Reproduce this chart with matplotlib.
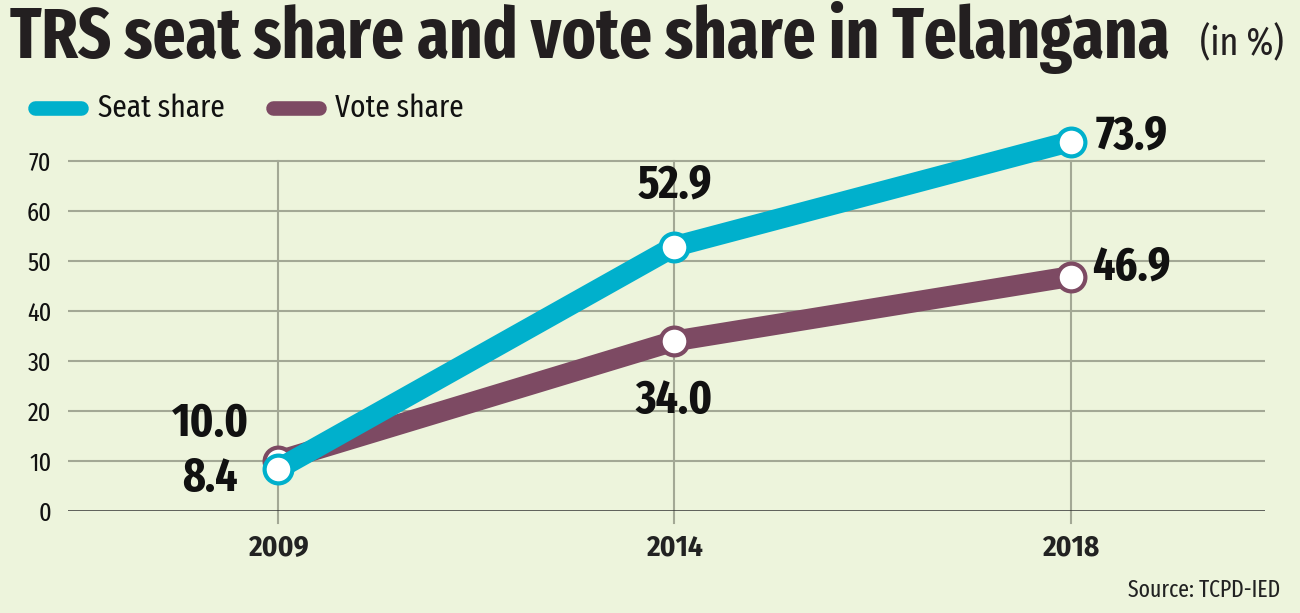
import matplotlib
matplotlib.use('Agg')
import matplotlib.pyplot as plt

# data
years = ['2009', '2014', '2018']
seat_share = [8.4, 52.9, 73.9]
vote_share = [10.0, 34.0, 46.9]
yticks = [0, 10, 20, 30, 40, 50, 60, 70]

narrow = ['Fira Sans Condensed', 'Roboto Condensed', 'DejaVu Sans']
xnarrow = ['Fira Sans Extra Condensed', 'Fira Sans Condensed', 'Roboto Condensed', 'DejaVu Sans']

bg = '#edf4dc'
teal = '#00b0cc'
plum = '#7d4a63'
grid = '#a3a895'

fig = plt.figure(figsize=(13, 6.13), dpi=100, facecolor=bg)
ax = fig.add_axes([68/1300, 102/613, 1197/1300, 375/613])
ax.set_facecolor(bg)
ax.set_xlim(-0.53, 2.49)
ax.set_ylim(0, 75)
for s in ax.spines.values():
    s.set_visible(False)

x = list(range(len(years)))

# grid
for yv in yticks[1:]:
    ax.axhline(yv, color=grid, lw=1.5, zorder=1)
ax.axhline(0, color='#333333', lw=1.8, zorder=2)
for xv in x:
    ax.plot([xv, xv], [-2.4, 70], color=grid, lw=1.5, zorder=1, clip_on=False)

ax.set_yticks(yticks)
ax.set_yticklabels([str(v) for v in yticks], family=xnarrow, fontsize=19, color='#111111')
ax.tick_params(axis='y', length=0, pad=12)
ax.set_xticks(x)
ax.set_xticklabels(years, family=narrow, fontsize=21, fontweight='bold', color='#222222')
ax.tick_params(axis='x', length=0, pad=16)

# lines
ax.plot(x, vote_share, color=plum, lw=15, solid_capstyle='round', zorder=3, clip_on=False)
ax.plot(x, vote_share, 'o', ms=20, mfc='white', mec=plum, mew=3, zorder=4, clip_on=False)
ax.plot(x, seat_share, color=teal, lw=15, solid_capstyle='round', zorder=5, clip_on=False)
ax.plot(x, seat_share, 'o', ms=20, mfc='white', mec=teal, mew=3, zorder=6, clip_on=False)

# value labels
lab = dict(family=xnarrow, fontsize=34, fontweight='bold', color='#111111', ha='center', va='center')
ax.text(x[0] - 0.17, vote_share[0] + 7.5, f'{vote_share[0]:.1f}', **lab)
ax.text(x[0] - 0.172, seat_share[0] - 2.0, f'{seat_share[0]:.1f}', **lab)
ax.text(x[1], seat_share[1] + 12.3, f'{seat_share[1]:.1f}', **lab)
ax.text(x[1], vote_share[1] - 12.0, f'{vote_share[1]:.1f}', **lab)
lab['ha'] = 'left'
ax.text(x[2] + 0.063, seat_share[2] + 1.1, f'{seat_share[2]:.1f}', **lab)
ax.text(x[2] + 0.055, vote_share[2] + 1.8, f'{vote_share[2]:.1f}', **lab)

# title
fig.text(10/1300, 1 - 38/613, 'TRS seat share and vote share in Telangana', family=xnarrow,
         fontsize=50.5, fontweight='bold', color='#231f20', va='center', ha='left')
fig.text(1284/1300, 1 - 44/613, '(in %)', family=xnarrow, fontsize=28, color='#231f20',
         va='center', ha='right')

# legend
fig.add_artist(plt.Line2D([35/1300, 81/1300], [1 - 108/613] * 2, color=teal, lw=10.5,
                          solid_capstyle='round'))
fig.text(98/1300, 1 - 108/613, 'Seat share', family=xnarrow, fontsize=23, va='center', color='#111111')
fig.add_artist(plt.Line2D([273/1300, 319/1300], [1 - 108/613] * 2, color=plum, lw=10.5,
                          solid_capstyle='round'))
fig.text(335/1300, 1 - 108/613, 'Vote share', family=xnarrow, fontsize=23, va='center', color='#111111')

fig.text(1280/1300, 1 - 590/613, 'Source: TCPD-IED', family=xnarrow, fontsize=17,
         ha='right', va='center', color='#222222')

fig.savefig('out.png', dpi=100, facecolor=bg)
